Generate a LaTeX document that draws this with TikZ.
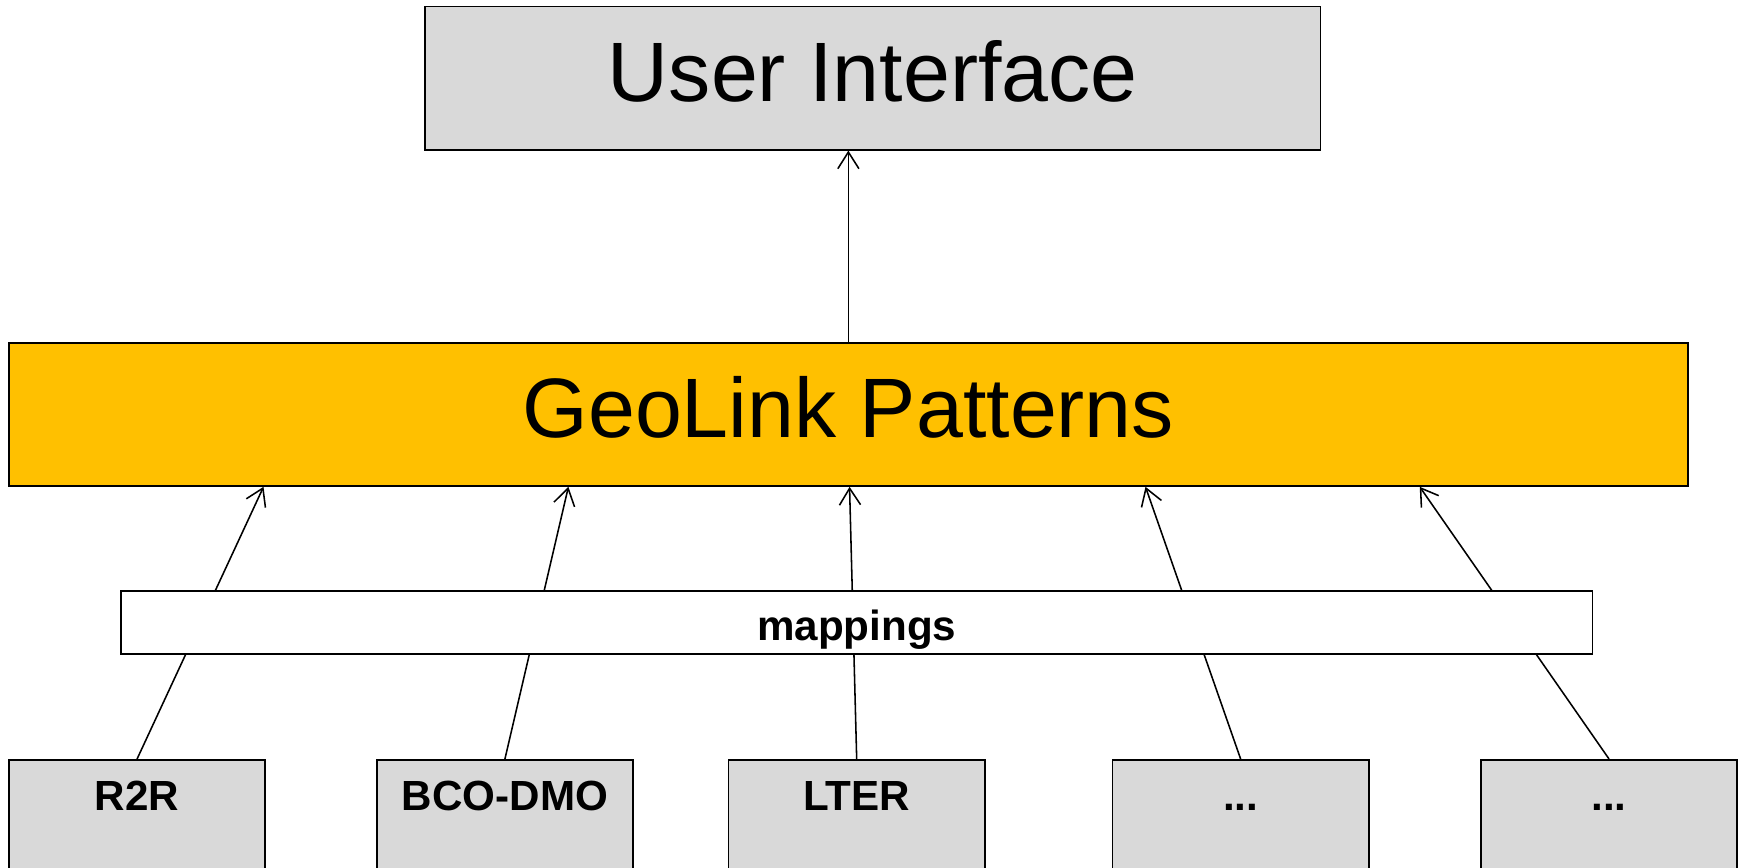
\documentclass[tikz,border=0pt]{standalone}
\usepackage{fontspec}
\setmainfont{Liberation Sans}
\usetikzlibrary{arrows.meta,calc}

\definecolor{boxgray}{HTML}{D9D9D9}
\definecolor{patternorange}{HTML}{FFC000}

\tikzset{
  layerbox/.style={draw=black, line width=1.4pt, inner sep=0pt, minimum height=129pt,
    font=\fontsize{76}{80}\selectfont, text depth=13pt},
  sourcebox/.style={draw=black, fill=boxgray, line width=1.4pt, anchor=north,
    minimum width=231pt, inner sep=0pt, text height=46pt, text depth=83pt,
    font=\bfseries\fontsize{38}{40}\selectfont},
  link/.style={line width=1.4pt},
  uplink/.style={link, -{Straight Barb[length=15pt,width=19pt]}}
}

\begin{document}
\begin{tikzpicture}[x=1pt,y=-1pt]
 \useasboundingbox (0,0) rectangle (1568,781.3);

 \node[layerbox, fill=boxgray, minimum width=807pt] (ui) at (786.5,70.5) {User Interface};
 \node[layerbox, fill=patternorange, minimum width=1513pt] (geolink) at (764.5,373.5) {GeoLink Patterns};

 \node[sourcebox] (r2r) at (123.5,684) {R2R};
 \node[sourcebox] (bcodmo) at (455,684) {BCO-DMO};
 \node[sourcebox] (lter) at (772,684) {LTER};
 \node[sourcebox] (more1) at (1118,684) {...};
 \node[sourcebox] (more2) at (1450,684) {...};

 \draw[uplink] (geolink.north) -- (geolink.north |- ui.south);
 \foreach \src/\pos in {r2r/0.152, bcodmo/0.3334, lter/0.5007, more1/0.6768, more2/0.840}
  \draw[uplink] (\src.north) -- ($(geolink.south west)!\pos!(geolink.south east)$);

 % mappings sits on top of the links
 \node[draw=black, fill=white, line width=1.4pt, minimum width=1326pt, minimum height=57pt,
   inner sep=0pt, font=\bfseries\fontsize{38}{40}\selectfont,
   text height=41pt, text depth=8pt] (mappings) at (772,561) {mappings};
\end{tikzpicture}
\end{document}
